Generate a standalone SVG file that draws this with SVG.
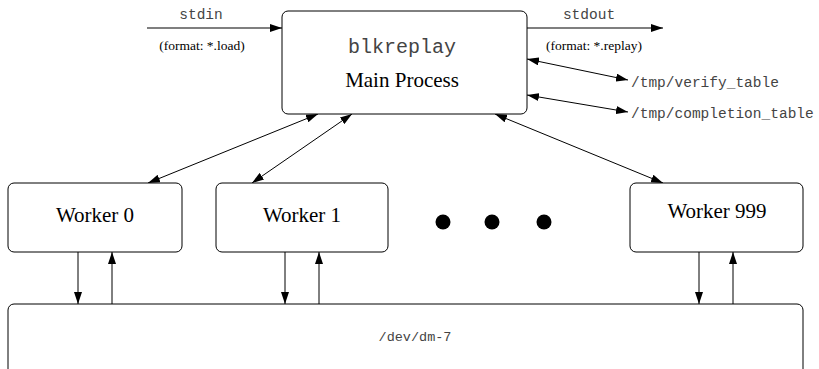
<svg xmlns="http://www.w3.org/2000/svg" width="819" height="369" viewBox="0 0 819 369">
  <defs>
    <marker id="arrow" viewBox="0 0 12 8" refX="12" refY="4" markerWidth="12" markerHeight="8" markerUnits="userSpaceOnUse" orient="auto-start-reverse">
      <path d="M0,0 L12,4 L0,8 Z" fill="#000"/>
    </marker>
  </defs>
  <style>
    .box { fill: #fff; stroke: #000; stroke-width: 1; }
    .mono { font-family: "Liberation Mono", "Courier New", monospace; fill: #444; }
    .serif { font-family: "Liberation Serif", "Times New Roman", serif; fill: #000; }
    .edge { stroke: #000; stroke-width: 1; fill: none; }
    .io { stroke: #555; stroke-width: 1.3; fill: none; }
    .one { marker-end: url(#arrow); }
    .two { marker-start: url(#arrow); marker-end: url(#arrow); }
  </style>

  <g id="connectors">
    <!-- pipe input / output -->
    <line class="io one" x1="147" y1="28" x2="282" y2="28"/>
    <line class="io one" x1="527" y1="28" x2="663" y2="28"/>
    <!-- shared tables -->
    <line class="edge two" x1="527" y1="59" x2="628" y2="80"/>
    <line class="edge two" x1="527" y1="95" x2="628" y2="112"/>
    <!-- main process to workers -->
    <line class="edge two" x1="318" y1="114" x2="148" y2="183"/>
    <line class="edge two" x1="352" y1="114" x2="252" y2="183"/>
    <line class="edge two" x1="495" y1="114" x2="663" y2="183"/>
    <!-- workers to device -->
    <line class="edge one" x1="78" y1="252" x2="78" y2="304"/>
    <line class="edge one" x1="112" y1="304" x2="112" y2="252"/>
    <line class="edge one" x1="285" y1="252" x2="285" y2="304"/>
    <line class="edge one" x1="319" y1="304" x2="319" y2="252"/>
    <line class="edge one" x1="699" y1="252" x2="699" y2="304"/>
    <line class="edge one" x1="733" y1="304" x2="733" y2="252"/>
  </g>

  <g id="labels">
    <text class="mono" x="201" y="19" font-size="14.5" text-anchor="middle">stdin</text>
    <text class="serif" x="202" y="50" font-size="13.5" text-anchor="middle">(format: *.load)</text>
    <text class="mono" x="589" y="19" font-size="14.5" text-anchor="middle">stdout</text>
    <text class="serif" x="594" y="50" font-size="13.5" text-anchor="middle">(format: *.replay)</text>
    <text class="mono" x="631" y="87" font-size="14.5">/tmp/verify_table</text>
    <text class="mono" x="631" y="118" font-size="14.5">/tmp/completion_table</text>
  </g>

  <g id="main-process">
    <rect class="box" x="282" y="11" width="245" height="103" rx="6"/>
    <text class="mono" x="402" y="53" font-size="20" text-anchor="middle">blkreplay</text>
    <text class="serif" x="402" y="87" font-size="21" text-anchor="middle">Main Process</text>
  </g>

  <g id="worker-0">
    <rect class="box" x="8" y="183" width="174" height="69" rx="6"/>
    <text class="serif" x="95" y="222" font-size="21" text-anchor="middle">Worker 0</text>
  </g>

  <g id="worker-1">
    <rect class="box" x="216" y="183" width="172" height="69" rx="6"/>
    <text class="serif" x="302" y="222" font-size="21" text-anchor="middle">Worker 1</text>
  </g>

  <g id="ellipsis">
    <circle cx="443" cy="222" r="7.5" fill="#000"/>
    <circle cx="492" cy="222" r="7.5" fill="#000"/>
    <circle cx="544" cy="222" r="7.5" fill="#000"/>
  </g>

  <g id="worker-999">
    <rect class="box" x="630" y="183" width="173" height="69" rx="6"/>
    <text class="serif" x="717" y="218" font-size="21" text-anchor="middle">Worker 999</text>
  </g>

  <g id="device">
    <rect class="box" x="8" y="304" width="795" height="90" rx="6"/>
    <text class="mono" x="415" y="341" font-size="13.5" text-anchor="middle">/dev/dm-7</text>
  </g>
</svg>
